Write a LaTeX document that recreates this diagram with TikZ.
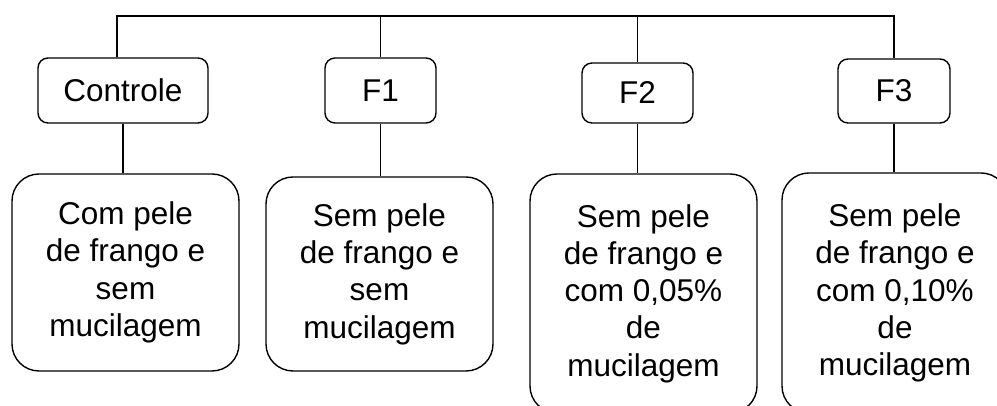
\documentclass[tikz,border=0pt]{standalone}
\usepackage{fontspec}
\setmainfont{Liberation Sans}
\begin{document}
\begin{tikzpicture}[x=1pt,y=1pt,
  line width=1.4pt,
  smallbox/.style={draw, rounded corners=10pt, inner sep=0pt, align=center,
    font=\fontsize{31.5}{37.3}\selectfont},
  bigbox/.style={draw, rounded corners=27pt, inner sep=0pt, align=center,
    minimum width=227pt, font=\fontsize{31.5}{37.3}\selectfont},
  link/.style={line width=1.4pt}]
\useasboundingbox (0,0) rectangle (997,406);
\fill[white] (0,0) rectangle (997,406);
\node[smallbox, minimum width=170pt, minimum height=65pt] (ctrl) at (123,315.5) {Controle};
\node[smallbox, minimum width=111pt, minimum height=65pt] (f1) at (380.5,315.5) {F1};
\node[smallbox, minimum width=111pt, minimum height=60pt] (f2) at (637.5,313) {F2};
\node[smallbox, minimum width=112pt, minimum height=64pt] (f3) at (894,315) {F3};
\node[bigbox, minimum height=197pt] (b1) at (125.5,133.5) {Com pele\\de frango e\\sem\\mucilagem};
\node[bigbox, minimum height=194pt] (b2) at (379.5,132) {Sem pele\\de frango e\\sem\\mucilagem};
\node[bigbox, minimum height=239pt] (b3) at (643.5,112.5) {Sem pele\\de frango e\\com 0,05\%\\de\\mucilagem};
\node[bigbox, minimum width=226pt, minimum height=240pt] (b4) at (895,113) {Sem pele\\de frango e\\com 0,10\%\\de\\mucilagem};
\coordinate (t1) at (117,390);
\coordinate (t4) at (894,390);
\draw[link] (t1 |- ctrl.north) -- (t1) -- (t4) -- (f3.north);
\draw[link] (f1.north) -- (f1.north |- t1);
\draw[link] (f2.north) -- (f2.north |- t1);
\draw[link] (ctrl.south) -- (ctrl.south |- b1.north);
\draw[link] (f1.south) -- (f1.south |- b2.north);
\draw[link] (f2.south) -- (f2.south |- b3.north);
\draw[link] (f3.south) -- (f3.south |- b4.north);
\end{tikzpicture}
\end{document}
